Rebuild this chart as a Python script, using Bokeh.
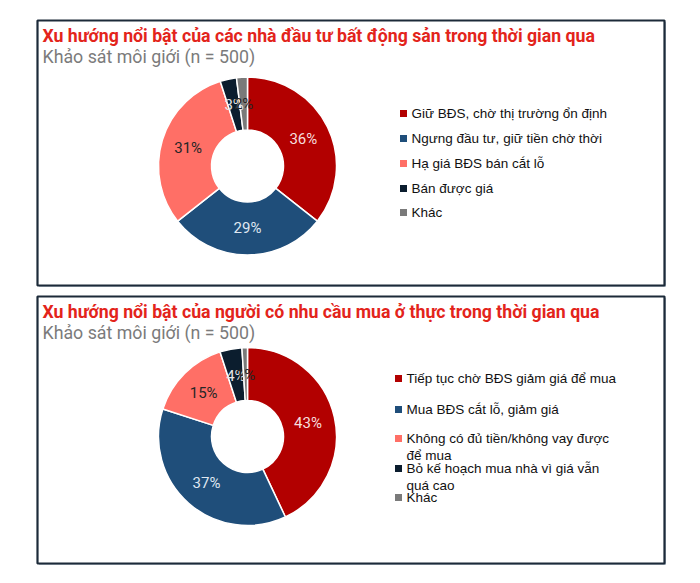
import numpy as np
from bokeh.plotting import figure
from bokeh.models import Range1d, ColumnDataSource
from bokeh.core.properties import value
from bokeh.embed import file_html
from bokeh.resources import INLINE

# ---------------- data ----------------
subtitle = "Khảo sát môi giới (n = 500)"

title1 = "Xu hướng nổi bật của các nhà đầu tư bất động sản trong thời gian qua"
cats1 = ["Giữ BĐS, chờ thị trường ổn định",
         "Ngưng đầu tư, giữ tiền chờ thời",
         "Hạ giá BĐS bán cắt lỗ",
         "Bán được giá",
         "Khác"]
vals1 = [36, 29, 31, 3, 2]

title2 = "Xu hướng nổi bật của người có nhu cầu mua ở thực trong thời gian qua"
cats2 = ["Tiếp tục chờ BĐS giảm giá để mua",
         "Mua BĐS cắt lỗ, giảm giá",
         "Không có đủ tiền/không vay được\nđể mua",
         "Bỏ kế hoạch mua nhà vì giá vẫn\nquá cao",
         "Khác"]
vals2 = [43, 37, 15, 4, 1]

colors = ["#b20000", "#1f4e7a", "#ff6f66", "#0b1d2e", "#7a7a7a"]
label_colors = ["#f6dede", "#dfe7f1", "#262626", "#e6e6e6", "#262626"]

# ---------------- figure (data coords = page pixels, y flipped) ----------------
W, H = 684, 567

def Y(img_y):
    return H - img_y

p = figure(width=W, height=H, output_backend="svg", toolbar_location=None,
           x_range=Range1d(0, W), y_range=Range1d(0, H),
           min_border=0, outline_line_color=None)
p.axis.visible = False
p.grid.visible = False
p.background_fill_color = "white"
p.border_fill_color = "white"


def panel(top, bottom, title, cats, vals, cx, cy, lx, ly0, lsteps):
    left, right = 37, 664
    # shadow + box
    p.quad(left=left + 1.5, right=right + 1.5, top=Y(top + 1.5), bottom=Y(bottom + 1.5),
           fill_color="#b8c2cc", line_color=None)
    p.quad(left=left, right=right, top=Y(top), bottom=Y(bottom),
           fill_color="white", line_color="#1c2a39", line_width=2.2)
    # titles
    p.text(x=[left + 5], y=[Y(top + 15)], text=[title], text_font=value("Roboto"),
           text_font_style="bold", text_font_size="17.7px", text_color="#e3241b",
           text_baseline="middle", text_align="left")
    p.text(x=[left + 5], y=[Y(top + 36)], text=[subtitle], text_font=value("Roboto"),
           text_font_size="17.8px", text_color="#7b7b7b",
           text_baseline="middle", text_align="left")

    # donut
    v = np.array(vals, dtype=float)
    fr = v / v.sum()
    cum = np.cumsum(fr)
    start = np.pi / 2 - 2 * np.pi * cum
    end = np.pi / 2 - 2 * np.pi * (cum - fr)
    src = ColumnDataSource(dict(start=start, end=end, color=colors))
    p.annular_wedge(x=cx, y=Y(cy), inner_radius=36, outer_radius=89,
                    start_angle="start", end_angle="end", fill_color="color",
                    line_color="white", line_width=1.5, source=src)
    mid = (start + end) / 2
    r = 62
    lab = ColumnDataSource(dict(x=cx + r * np.cos(mid), y=Y(cy) + r * np.sin(mid),
                                t=[f"{int(a)}%" for a in vals], c=label_colors))
    p.text(x="x", y="y", text="t", text_color="c", source=lab,
           text_font=value("Roboto"), text_font_size="15px",
           text_align="center", text_baseline="middle")

    # legend
    sq_y = []
    tx, ty, tt = [], [], []
    yy = ly0
    for i, name in enumerate(cats):
        lines = name.split("\n")
        sq_y.append(Y(yy))
        for j, ln in enumerate(lines):
            tx.append(lx + 8)
            ty.append(Y(yy + 17 * j))
            tt.append(ln)
        yy += lsteps[i] if i < len(lsteps) else 0
    p.rect(x=[lx] * len(cats), y=sq_y, width=7, height=7,
           fill_color=colors, line_color=None)
    p.text(x=tx, y=ty, text=tt, text_font=value("Liberation Sans"),
           text_font_size="13.5px", text_color="#111111",
           text_baseline="middle", text_align="left")


panel(20, 285, title1, cats1, vals1, 247, 165.5, 403, 113, [25, 25, 25, 24])
panel(296, 563, title2, cats2, vals2, 247, 436, 398, 378, [31, 29, 30, 29])

open("out.html", "w").write(file_html(p, INLINE))
